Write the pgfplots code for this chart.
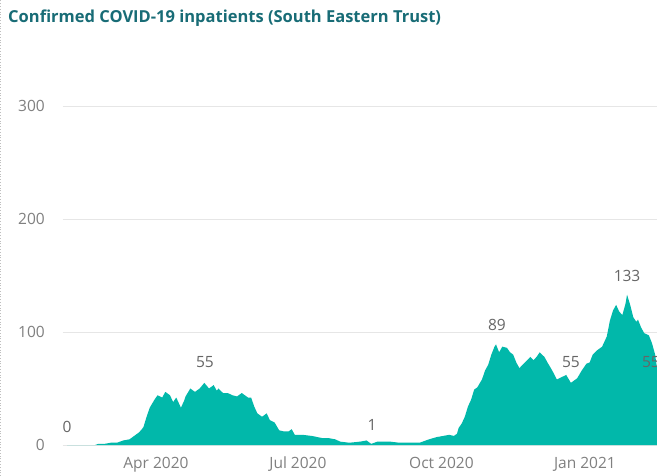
\documentclass[border=0pt]{standalone}
\usepackage{fontspec}
\setmainfont{Open Sans}
\usepackage{pgfplots}
\pgfplotsset{compat=1.18}
\definecolor{pbteal}{RGB}{1,184,170}
\definecolor{titlecol}{RGB}{24,108,118}
\definecolor{tickcol}{RGB}{128,128,128}
\definecolor{labcol}{RGB}{102,102,102}
\definecolor{gridcol}{RGB}{230,230,230}
\begin{document}
\begin{tikzpicture}
\useasboundingbox (0,0) rectangle (657bp,476bp);
\fill[white] (0,0) rectangle (657bp,476bp);
\draw[gray!50, dotted, line width=0.8bp] (0.6bp,0) -- (0.6bp,476bp);
\node[anchor=west, inner sep=0pt, text=titlecol, font=\fontsize{16.5bp}{19bp}\selectfont\bfseries] at (8bp,458bp) {Confirmed COVID-19 inpatients (South Eastern Trust)};
\begin{axis}[
  at={(63bp,31bp)}, anchor=south west,
  scale only axis, width=594bp, height=339bp,
  xmin=31.4, xmax=412.2, ymin=0, ymax=300,
  axis line style={draw=none},
  major tick length=0pt,
  ymajorgrids, grid style={color=gridcol, line width=0.8bp},
  ytick={0,100,200,300},
  xtick={91,182,274,366},
  xticklabels={Apr 2020, Jul 2020, Oct 2020, Jan 2021},
  /pgf/number format/assume math mode=true,
  tick label style={font=\fontsize{15.5bp}{18bp}\selectfont, text=tickcol},
  yticklabel style={anchor=east, inner sep=0pt, xshift=-18bp},
  xticklabel style={anchor=north, inner sep=0pt, yshift=-12bp},
  clip=false,
]
\addplot[fill=pbteal, draw=none] table {
x y
34 0
40 0
46 0
52 0
54 1
58 1
62 2
66 2
68 3
70 4
74 5
77 8
80 11
82 14
83 16
85 25
87 33
90 40
92 44
95 42
97 47
100 44
102 38
104 42
107 33
109 39
110 43
113 50
116 47
119 50
122 55
125 50
128 53
130 48
131 50
134 46
137 46
140 44
143 43
146 46
150 42
152 42
154 34
156 28
159 25
162 28
164 22
167 20
170 13
173 12
176 12
178 14
180 9
185 9
191 8
198 6
202 6
206 5
209 3
215 2
222 3
226 4
229 1
233 3
241 3
247 2
254 2
260 2
266 5
271 7
275 8
279 9
282 8
284 10
285 15
287 19
289 25
291 34
293 40
295 49
297 51
300 58
302 66
304 71
306 80
308 87
309 89
311 82
313 87
316 86
318 82
320 80
322 73
324 68
326 71
329 75
331 78
333 75
335 78
337 82
340 78
342 73
345 66
348 58
351 60
354 62
357 55
361 59
364 66
367 72
369 73
371 80
374 84
377 87
380 96
382 110
384 119
386 124
388 118
390 115
392 125
393 133
395 124
397 113
399 109
400 111
402 104
404 99
407 97
409 90
411 80
412.2 68
} \closedcycle;
\begin{scope}[every node/.style={text=labcol, font=\fontsize{15.5bp}{18bp}\selectfont, inner sep=0pt}]
\node at (axis cs:34,16) {0};
\node at (axis cs:122.4,73.5) {55};
\node at (axis cs:229.5,17.7) {1};
\node at (axis cs:309.6,106) {89};
\node at (axis cs:357,73.5) {55};
\node at (axis cs:393,150) {133};
\node at (axis cs:408.3,73.5) {55};
\end{scope}
\end{axis}
\end{tikzpicture}
\end{document}
